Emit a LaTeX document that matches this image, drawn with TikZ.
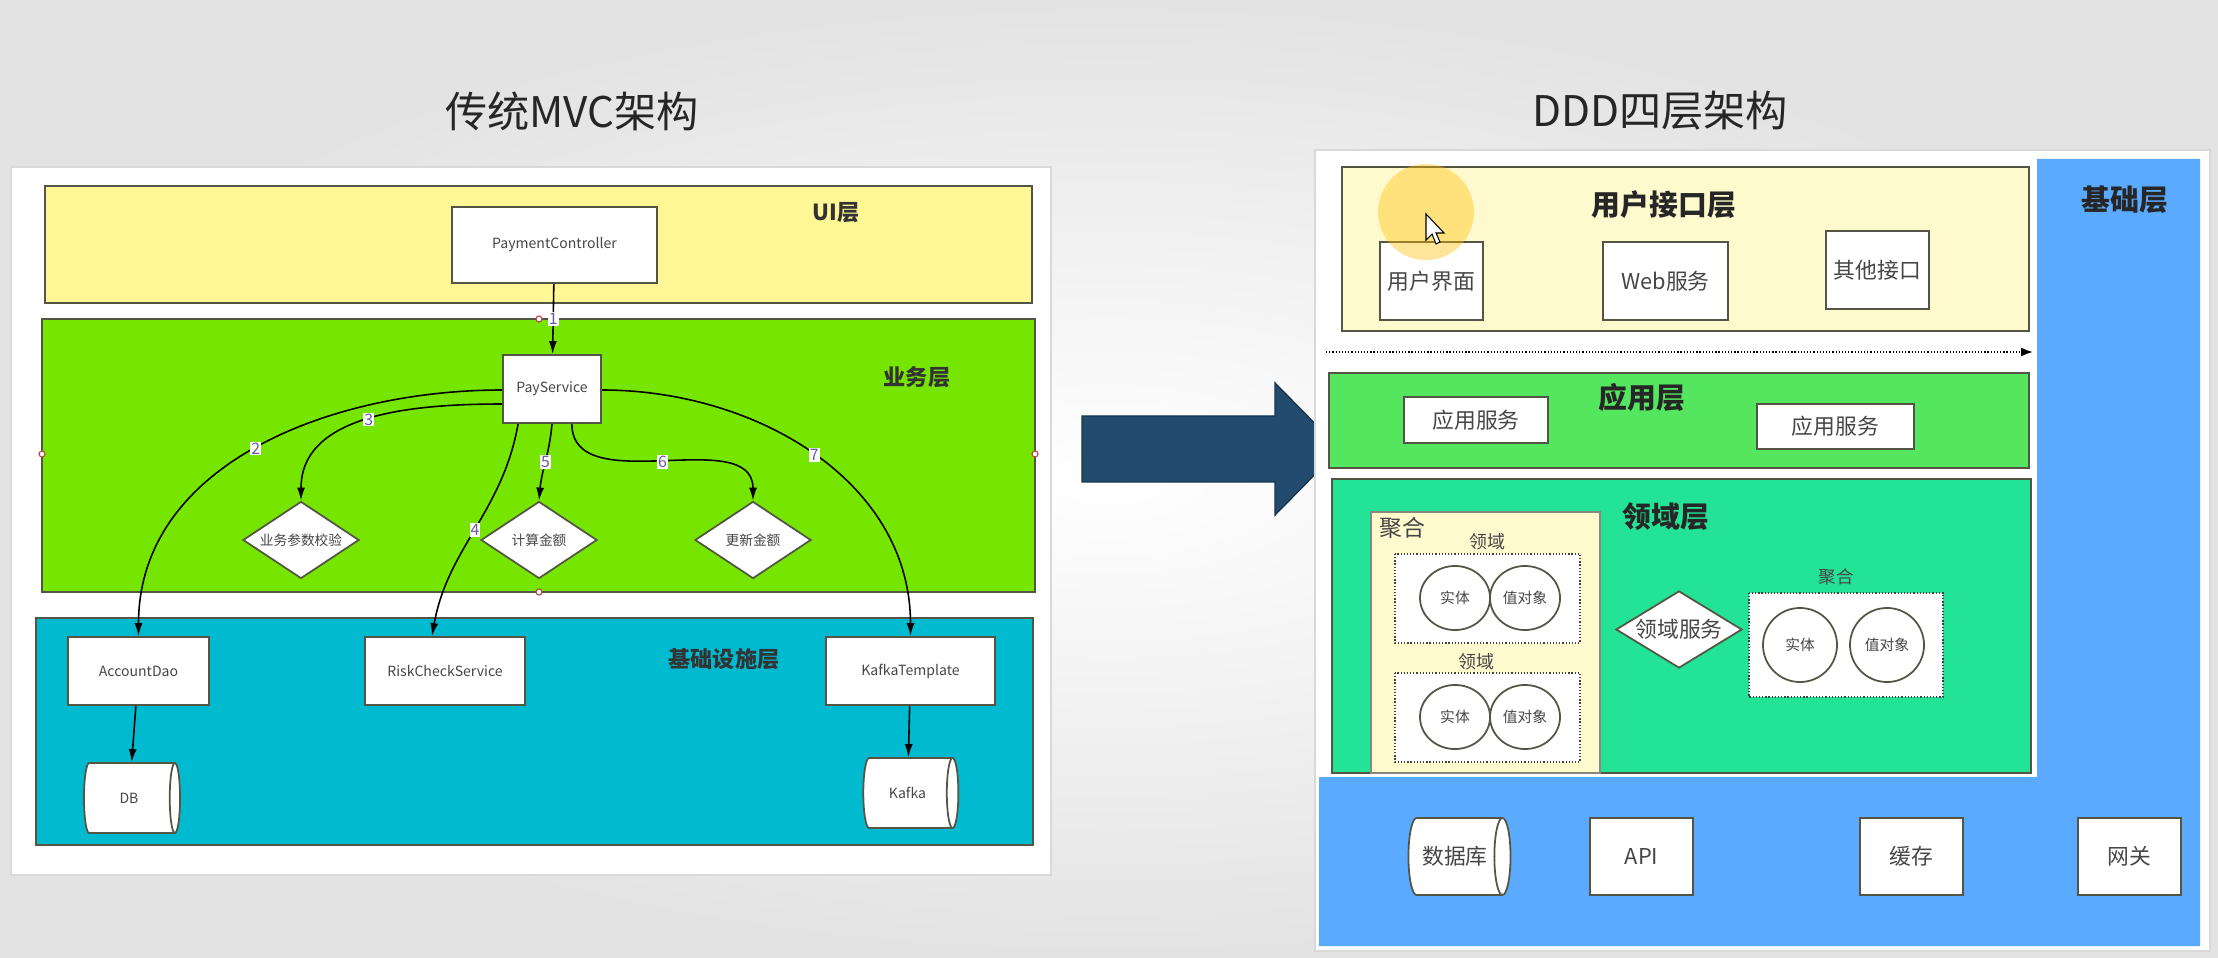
\documentclass[tikz,border=0pt]{standalone}
\usepackage{fontspec}
\setmainfont{Noto Sans CJK SC}
\usepackage{tikz}
\usetikzlibrary{shapes.geometric,arrows.meta}
\definecolor{uiyellow}{RGB}{255,246,150}
\definecolor{bizgreen}{RGB}{118,230,0}
\definecolor{infracyan}{RGB}{0,186,208}
\definecolor{lemon}{RGB}{255,250,206}
\definecolor{appgreen}{RGB}{85,230,95}
\definecolor{domgreen}{RGB}{35,228,150}
\definecolor{baseblue}{RGB}{90,170,255}
\definecolor{arrowblue}{RGB}{35,75,110}
\definecolor{edgegray}{RGB}{85,85,70}
\definecolor{txtgray}{RGB}{70,70,70}
\definecolor{numpurple}{RGB}{100,90,160}
\tikzset{band/.style={draw=edgegray,line width=0.6pt},
 box/.style={draw=edgegray,fill=white,line width=0.5pt,inner sep=0pt,text=txtgray},
 smallbox/.style={box,font=\fontsize{4}{5}\selectfont},
 bigbox/.style={box,font=\fontsize{6.2}{7}\selectfont},
 dia/.style={diamond,shape aspect=1.5},
 drum/.style={cylinder,aspect=1.0},
 orb/.style={box,ellipse,font=\fontsize{4.2}{5}\selectfont},
 dotbox/.style={draw=black!75,fill=white,dash pattern=on 0.35pt off 0.55pt,line width=0.5pt},
 title/.style={font=\fontsize{12}{14}\selectfont,text=black!85},
 layer/.style={font=\bfseries\fontsize{6.3}{7}\selectfont,text=black!80},
 biglayer/.style={font=\bfseries\fontsize{8.2}{9}\selectfont,text=black!85},
 flow/.style={-{Latex[length=1.3mm,width=0.8mm]},line width=0.45pt},
 num/.style={fill=white,inner sep=0.3pt,font=\fontsize{4.5}{5}\selectfont,text=numpurple},
 handle/.style={circle,draw=red!50!gray,fill=white,inner sep=0pt,minimum size=0.06cm,line width=0.3pt},
 }

\begin{document}
\begin{tikzpicture}[x=0.01cm,y=-0.01cm]
\useasboundingbox (0,0) rectangle (2218,958);
\shade[inner color=white,outer color=gray!22] (0,0) rectangle (2218,958);
\node[title] (mvctitle) at (572,111) {传统MVC架构};
\node[title] (dddtitle) at (1660,111) {DDD四层架构};

\filldraw[draw=gray!30,fill=white] (11,167) rectangle (1051,875);
\filldraw[band,fill=uiyellow] (45,186) rectangle (1032,303);
\filldraw[band,fill=bizgreen] (42,319) rectangle (1035,592);
\filldraw[band,fill=infracyan] (36,618) rectangle (1033,845);
\foreach \x/\y in {539/319, 42/454, 1035/454, 539/592}
  \node[handle] at (\x,\y) {};
\node[layer] (uilabel) at (836,213) {UI层};
\node[layer] (bizlabel) at (917,377) {业务层};
\node[layer] (infralabel) at (724,659) {基础设施层};

\node[smallbox,minimum width=2.05cm,minimum height=0.76cm] (ctrl) at (554.5,245) {PaymentController};
\node[smallbox,minimum width=0.98cm,minimum height=0.68cm] (pay) at (552,389) {PayService};
\node[smallbox,dia,minimum width=1.16cm,minimum height=0.77cm,font=\fontsize{3.9}{4}\selectfont] (check) at (301,540) {业务参数校验};
\node[smallbox,dia,minimum width=1.16cm,minimum height=0.77cm,font=\fontsize{3.9}{4}\selectfont] (calc) at (539,540) {计算金额};
\node[smallbox,dia,minimum width=1.16cm,minimum height=0.77cm,font=\fontsize{3.9}{4}\selectfont] (upd) at (753,540) {更新金额};
\node[smallbox,minimum width=1.41cm,minimum height=0.68cm] (acct) at (138.5,671) {AccountDao};
\node[smallbox,minimum width=1.60cm,minimum height=0.68cm] (risk) at (445,671) {RiskCheckService};
\node[smallbox,minimum width=1.69cm,minimum height=0.68cm] (kt) at (910.5,671) {KafkaTemplate};
\node[smallbox,drum,minimum width=0.70cm,minimum height=0.96cm] (db) at (129,798) {DB};
\node[smallbox,drum,minimum width=0.70cm,minimum height=0.95cm] (kafka) at (907.5,793) {Kafka};

\draw[flow] (ctrl) -- node[num]{1} (pay);
\draw[flow] ([yshift=-0.01cm]pay.west) to[out=180,in=90] node[num]{2} (acct.north);
\draw[flow] ([yshift=-0.15cm]pay.west) to[out=180,in=90] node[num]{3} (check.north);
\draw[flow] ([xshift=0.16cm]pay.south west) to[out=-100,in=80] node[num]{4} ([xshift=-0.13cm]risk.north);
\draw[flow] (pay.south) to[out=-95,in=85] node[num]{5} (calc.north);
\draw[flow] ([xshift=-0.3cm]pay.south east) to[out=-90,in=90] node[num]{6} (upd.north);
\draw[flow] ([yshift=-0.01cm]pay.east) to[out=0,in=90] node[num]{7} (kt.north);
\draw[flow] (acct) -- (db);
\draw[flow] (kt) -- (kafka);

\filldraw[fill=arrowblue,draw=arrowblue!70!black,line width=0.4pt] (1082,416) -- (1275,416) -- (1275,383) -- (1340,449) -- (1275,515) -- (1275,482) -- (1082,482) -- cycle;

\filldraw[draw=gray!30,fill=white] (1315,150) rectangle (2210,951);
\fill[baseblue] (2037,159) -- (2200,159) -- (2200,946) -- (1319,946) -- (1319,777) -- (2037,777) -- cycle;
\node[biglayer] (baselabel) at (2125,200) {基础层};

\filldraw[band,fill=lemon] (1342,167) rectangle (2029,331);
\node[biglayer] (uilayer) at (1664,205) {用户接口层};
\node[bigbox,minimum width=1.03cm,minimum height=0.78cm] (uiface) at (1431.5,281) {用户界面};
\node[bigbox,minimum width=1.25cm,minimum height=0.78cm] (websvc) at (1665.5,281) {Web服务};
\node[bigbox,minimum width=1.03cm,minimum height=0.78cm] (otherapi) at (1877.5,270) {其他接口};
\fill[orange!50!yellow,opacity=0.4] (1426,212) circle (0.48cm);
\filldraw[fill=white,draw=black,line width=0.3pt] (1426,214) -- (1426,240) -- (1432,234) -- (1436,244) -- (1440,242) -- (1436,233) -- (1444,233) -- cycle;

\coordinate (flowstart) at (1326,352);
\coordinate (flowend) at (2033,352);
\draw[dash pattern=on 0.35pt off 0.55pt,line width=0.5pt,-{Latex[length=1.2mm,width=0.9mm]}] (flowstart) -- (flowend);

\filldraw[band,fill=appgreen] (1329,373) rectangle (2029,468);
\node[biglayer] (applabel) at (1642,398) {应用层};
\node[bigbox,minimum width=1.44cm,minimum height=0.46cm] (appsvca) at (1476,420) {应用服务};
\node[bigbox,minimum width=1.57cm,minimum height=0.45cm] (appsvcb) at (1835.5,426.5) {应用服务};

\filldraw[band,fill=domgreen] (1332,479) rectangle (2031,773);
\node[biglayer] (domlabel) at (1666,517) {领域层};
\filldraw[draw=edgegray!70,fill=lemon,line width=0.4pt] (1371,512) rectangle (1600,773);
\node[font=\fontsize{6.5}{7}\selectfont,text=txtgray] (agga) at (1402,528) {聚合};
\node[font=\fontsize{5.1}{6}\selectfont,text=txtgray] (doma) at (1487,542) {领域};
\node[font=\fontsize{5.1}{6}\selectfont,text=txtgray] (domb) at (1476,662) {领域};
\filldraw[dotbox] (1395,554) rectangle (1580,643);
\filldraw[dotbox] (1395,673) rectangle (1580,762);
\foreach \y/\n in {598/a, 717/b} {
  \node[orb,minimum width=0.70cm,minimum height=0.64cm] (ent\n) at (1455,\y) {实体};
  \node[orb,minimum width=0.70cm,minimum height=0.64cm] (val\n) at (1525,\y) {值对象};
}
\node[bigbox,dia,shape aspect=1.6,minimum width=1.26cm,minimum height=0.77cm] (domsvc) at (1679,629.5) {领域服务};
\node[font=\fontsize{5}{6}\selectfont,text=txtgray] (aggb) at (1836,577) {聚合};
\filldraw[dotbox] (1749,593) rectangle (1943,697);
\node[orb,minimum size=0.74cm] (entc) at (1800,645) {实体};
\node[orb,minimum size=0.74cm] (valc) at (1887,645) {值对象};

\node[bigbox,drum,aspect=0.8,minimum width=0.77cm,minimum height=1.02cm] (dbase) at (1455,856.5) {数据库};
\node[bigbox,minimum width=1.03cm,minimum height=0.77cm] (api) at (1641.5,856.5) {API};
\node[bigbox,minimum width=1.03cm,minimum height=0.77cm] (cache) at (1911.5,856.5) {缓存};
\node[bigbox,minimum width=1.03cm,minimum height=0.77cm] (gateway) at (2129.5,856.5) {网关};
\end{tikzpicture}
\end{document}
